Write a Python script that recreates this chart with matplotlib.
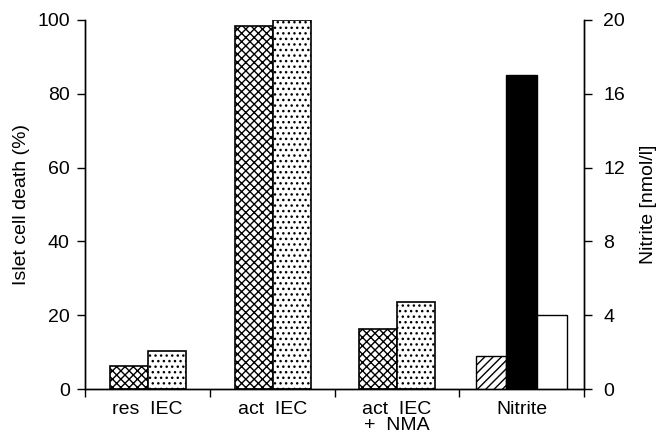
import matplotlib.pyplot as plt
import numpy as np

plt.rcParams['font.family'] = ['Liberation Sans', 'DejaVu Sans']
plt.rcParams['hatch.linewidth'] = 1.0

# data
groups = ["res  IEC", "act  IEC", "act  IEC\n+  NMA", "Nitrite"]
death_a = [6.2, 98.3, 16.2]      # cross-hatched bars
death_b = [10.2, 100.0, 23.5]    # dotted bars
nitrite = [1.8, 17.0, 4.0]       # nmol/l
nitrite_hatch = ["////", None, None]
nitrite_color = ["white", "black", "white"]

fig = plt.figure(figsize=(6.58, 4.41), dpi=100)
ax = fig.add_axes([85 / 658, 52 / 441, 499 / 658, 369 / 441])
ax2 = ax.twinx()

# islet cell death (left axis)
x = np.arange(3)
w = 0.304
ax.bar(x + 0.2, death_a, w, align="edge", color="white", edgecolor="black",
       hatch="xxxx", linewidth=1.2)
ax.bar(x + 0.2 + w, death_b, w, align="edge", color="white", edgecolor="black",
       hatch="...", linewidth=1.2)

# nitrite (right axis)
wn = 0.243
for i, v in enumerate(nitrite):
    ax2.bar(3.134 + i * wn, v, wn, align="edge", color=nitrite_color[i],
            edgecolor="black", hatch=nitrite_hatch[i], linewidth=1.0)

ax.set_xlim(0, 4)
ax.set_ylim(0, 100)
ax2.set_ylim(0, 20)

fs = 14
ax.set_yticks(np.arange(0, 101, 20))
ax2.set_yticks(np.arange(0, 21, 4))
ax.set_xticks(np.arange(5))
ax.set_xticklabels([])
ax.set_xticks(np.arange(4) + 0.5, minor=True)
ax.set_xticklabels(groups, minor=True, fontsize=fs, linespacing=0.85)
ax.tick_params(axis="x", which="minor", length=0, pad=9)
ax.tick_params(axis="x", which="major", length=6, width=1)
ax.tick_params(axis="y", labelsize=fs, length=6, width=1, pad=5)
ax2.tick_params(axis="y", labelsize=fs, length=6, width=1, pad=8)

ax.set_ylabel("Islet cell death (%)", fontsize=fs, labelpad=5)
ax2.set_ylabel("Nitrite [nmol/l]", fontsize=fs, labelpad=11)

for a in (ax, ax2):
    a.spines["top"].set_visible(False)
    for s in a.spines.values():
        s.set_linewidth(1.0)

fig.savefig("out.png", dpi=100)
